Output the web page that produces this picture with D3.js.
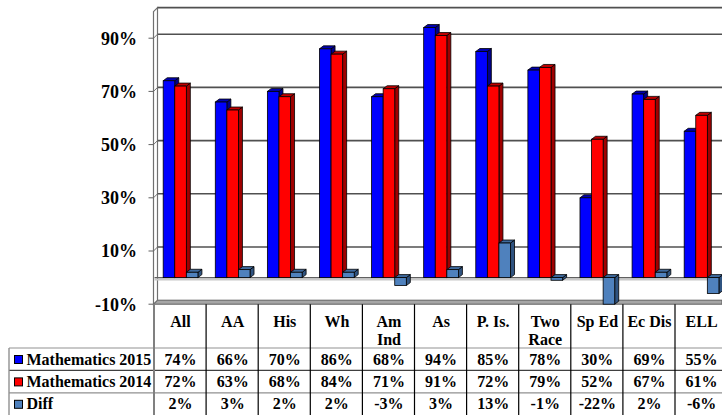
<!DOCTYPE html>
<html>
<head>
<meta charset="utf-8">
<script src="https://cdn.jsdelivr.net/npm/d3@7"></script>
<style>
  body { margin: 0; background: #fff; }
  svg { display: block; }
  text { font-family: "Liberation Serif", "Times New Roman", serif; font-weight: bold; fill: #000; }
</style>
</head>
<body>
<svg width="722" height="415"></svg>
<script>
// Chart data
const categories = ["All", "AA", "His", "Wh", "Am\nInd", "As", "P. Is.", "Two\nRace", "Sp Ed", "Ec Dis", "ELL"];
const seriesNames = ["Mathematics 2015", "Mathematics 2014", "Diff"];
const math2015 = [74, 66, 70, 86, 68, 94, 85, 78, 30, 69, 55];
const math2014 = [72, 63, 68, 84, 71, 91, 72, 79, 52, 67, 61];
const diff = [2, 3, 2, 2, -3, 3, 13, -1, -22, 2, -6];
const tickValues = [-10, 10, 30, 50, 70, 90];

const seriesValues = [math2015, math2014, diff];
const seriesColors = [
  { front: "#0000ff", top: "#0000b0", side: "#00008a" },
  { front: "#ff0000", top: "#c00000", side: "#a00000" },
  { front: "#4f81bd", top: "#3f6a9e", side: "#2f5380" }
];

const svg = d3.select("svg");
const W = 722, H = 415;
const dx = 4, dy = -4;      // wall depth
const bdx = 4, bdy = -3;    // bar depth
const left = 153.5, colW = 52.1;

const x = d3.scaleBand().domain(d3.range(categories.length))
  .range([left + 1, left + 1 + colW * categories.length]).padding(0);
const xs = d3.scaleBand().domain(d3.range(3)).range([0, x.bandwidth()])
  .paddingInner(0).paddingOuter(0.75);
const y = d3.scaleLinear().domain([-10, 100]).range([304.2, 11.6]);

const fmt = v => v + "%";

// walls
const walls = svg.append("g");
// floor at the axis minimum
walls.append("path")
  .attr("d", `M${left},${y(-10)} L${left + dx},${y(-10) + dy} L${W},${y(-10) + dy} L${W},${y(-10)} Z`)
  .attr("fill", "#a6a6a6").attr("stroke", "#606060").attr("stroke-width", 1);

// left wall
walls.append("path")
  .attr("d", `M${left},${y(100)} L${left + dx},${y(100) + dy} L${left + dx},${y(-10) + dy} L${left},${y(-10)} Z`)
  .attr("fill", "#fff").attr("stroke", "#707070").attr("stroke-width", 1.2);

// back wall top edge
walls.append("line")
  .attr("x1", left + dx).attr("x2", W)
  .attr("y1", y(100) + dy).attr("y2", y(100) + dy)
  .attr("stroke", "#505050").attr("stroke-width", 1.6);

// gridlines on back wall and left wall
const grid = walls.selectAll("g.grid").data(tickValues.filter(d => d > -10)).enter().append("g");
grid.append("line")
  .attr("x1", left + dx).attr("x2", W)
  .attr("y1", d => y(d) + dy).attr("y2", d => y(d) + dy)
  .attr("stroke", "#505050").attr("stroke-width", 1.6);
grid.append("line")
  .attr("x1", left).attr("x2", left + dx)
  .attr("y1", d => y(d)).attr("y2", d => y(d) + dy)
  .attr("stroke", "#707070").attr("stroke-width", 1);

// zero plane
walls.append("line")
  .attr("x1", left + 1).attr("x2", W)
  .attr("y1", y(0) + 2).attr("y2", y(0) + 2)
  .attr("stroke", "#c8c8c8").attr("stroke-width", 2);
walls.append("line")
  .attr("x1", left + 1).attr("x2", W)
  .attr("y1", y(0)).attr("y2", y(0))
  .attr("stroke", "#606060").attr("stroke-width", 1.4);

// value axis ticks and labels
const axis = svg.append("g");
axis.selectAll("line").data(tickValues).enter().append("line")
  .attr("x1", left - 5).attr("x2", left)
  .attr("y1", d => y(d)).attr("y2", d => y(d))
  .attr("stroke", "#606060");
axis.selectAll("text").data(tickValues).enter().append("text")
  .attr("x", 137).attr("y", d => y(d)).attr("dy", "0.36em")
  .attr("text-anchor", "end").style("font-size", "18px")
  .text(fmt);

// 3D bars
const bars = [];
categories.forEach((c, i) => {
  seriesValues.forEach((vals, s) => bars.push({ i, s, v: vals[i] }));
});

const bar = svg.append("g").selectAll("g").data(bars).enter().append("g");
const geom = d => {
  const x0 = x(d.i) + xs(d.s), w = xs.bandwidth();
  const v = Math.max(-10, Math.min(100, d.v));
  const t = Math.min(y(v), y(0)), b = Math.max(y(v), y(0));
  return { x0, w, t, b };
};
bar.append("path")
  .attr("d", d => {
    const g = geom(d);
    return `M${g.x0 + g.w},${g.t} L${g.x0 + g.w + bdx},${g.t + bdy} L${g.x0 + g.w + bdx},${g.b + bdy} L${g.x0 + g.w},${g.b} Z`;
  })
  .attr("fill", d => seriesColors[d.s].side).attr("stroke", "#000").attr("stroke-width", 0.8);
bar.append("path")
  .attr("d", d => {
    const g = geom(d);
    return `M${g.x0},${g.t} L${g.x0 + bdx},${g.t + bdy} L${g.x0 + g.w + bdx},${g.t + bdy} L${g.x0 + g.w},${g.t} Z`;
  })
  .attr("fill", d => seriesColors[d.s].top).attr("stroke", "#000").attr("stroke-width", 0.8);
bar.append("rect")
  .attr("x", d => geom(d).x0).attr("y", d => geom(d).t)
  .attr("width", xs.bandwidth()).attr("height", d => geom(d).b - geom(d).t)
  .attr("fill", d => seriesColors[d.s].front).attr("stroke", "#000").attr("stroke-width", 0.8);

// data table
const table = svg.append("g");
const headTop = y(-10), rowTop = 348, rowH = 22.4;

// horizontal rules
[rowTop, rowTop + rowH, rowTop + 2 * rowH].forEach((ry, k) => {
  table.append("line")
    .attr("x1", 9).attr("x2", W).attr("y1", ry).attr("y2", ry)
    .attr("stroke", k === 0 ? "#c8c8c8" : (k === 1 ? "#404040" : "#909090"))
    .attr("stroke-width", k === 0 ? 2 : 1.2);
});
table.append("line")
  .attr("x1", 9).attr("x2", 9).attr("y1", rowTop).attr("y2", H)
  .attr("stroke", "#909090").attr("stroke-width", 1.4);

// column rules
table.selectAll("line.col").data(d3.range(categories.length + 1)).enter().append("line")
  .attr("class", "col")
  .attr("x1", i => (i < categories.length ? x(i) : x(i - 1) + x.bandwidth()) - 0.5)
  .attr("x2", i => (i < categories.length ? x(i) : x(i - 1) + x.bandwidth()) - 0.5)
  .attr("y1", headTop).attr("y2", H)
  .attr("stroke", i => i === 0 ? "#808080" : "#000")
  .attr("stroke-width", i => i === 0 ? 2 : 1.2);

// header labels
const head = table.selectAll("text.head").data(categories).enter().append("text")
  .attr("class", "head")
  .attr("x", (d, i) => x(i) + x.bandwidth() / 2)
  .attr("text-anchor", "middle").style("font-size", "16px");
head.selectAll("tspan").data(d => d.split("\n")).enter().append("tspan")
  .attr("x", function () { return d3.select(this.parentNode).attr("x"); })
  .attr("y", (d, k) => 327 + k * 17.5)
  .text(d => d);

// rows
seriesNames.forEach((name, s) => {
  const ry = rowTop + s * rowH;
  table.append("rect")
    .attr("x", 14.5).attr("y", ry + 7.5).attr("width", 8).attr("height", 8)
    .attr("fill", seriesColors[s].front).attr("stroke", "#000").attr("stroke-width", 1);
  table.append("text")
    .attr("x", 26.5).attr("y", ry + rowH / 2).attr("dy", "0.34em")
    .style("font-size", "16px").text(name);
  table.selectAll(null).data(seriesValues[s]).enter().append("text")
    .attr("x", (d, i) => x(i) + x.bandwidth() / 2)
    .attr("y", ry + rowH / 2).attr("dy", "0.34em")
    .attr("text-anchor", "middle").style("font-size", "16px")
    .text(fmt);
});
</script>
</body>
</html>
